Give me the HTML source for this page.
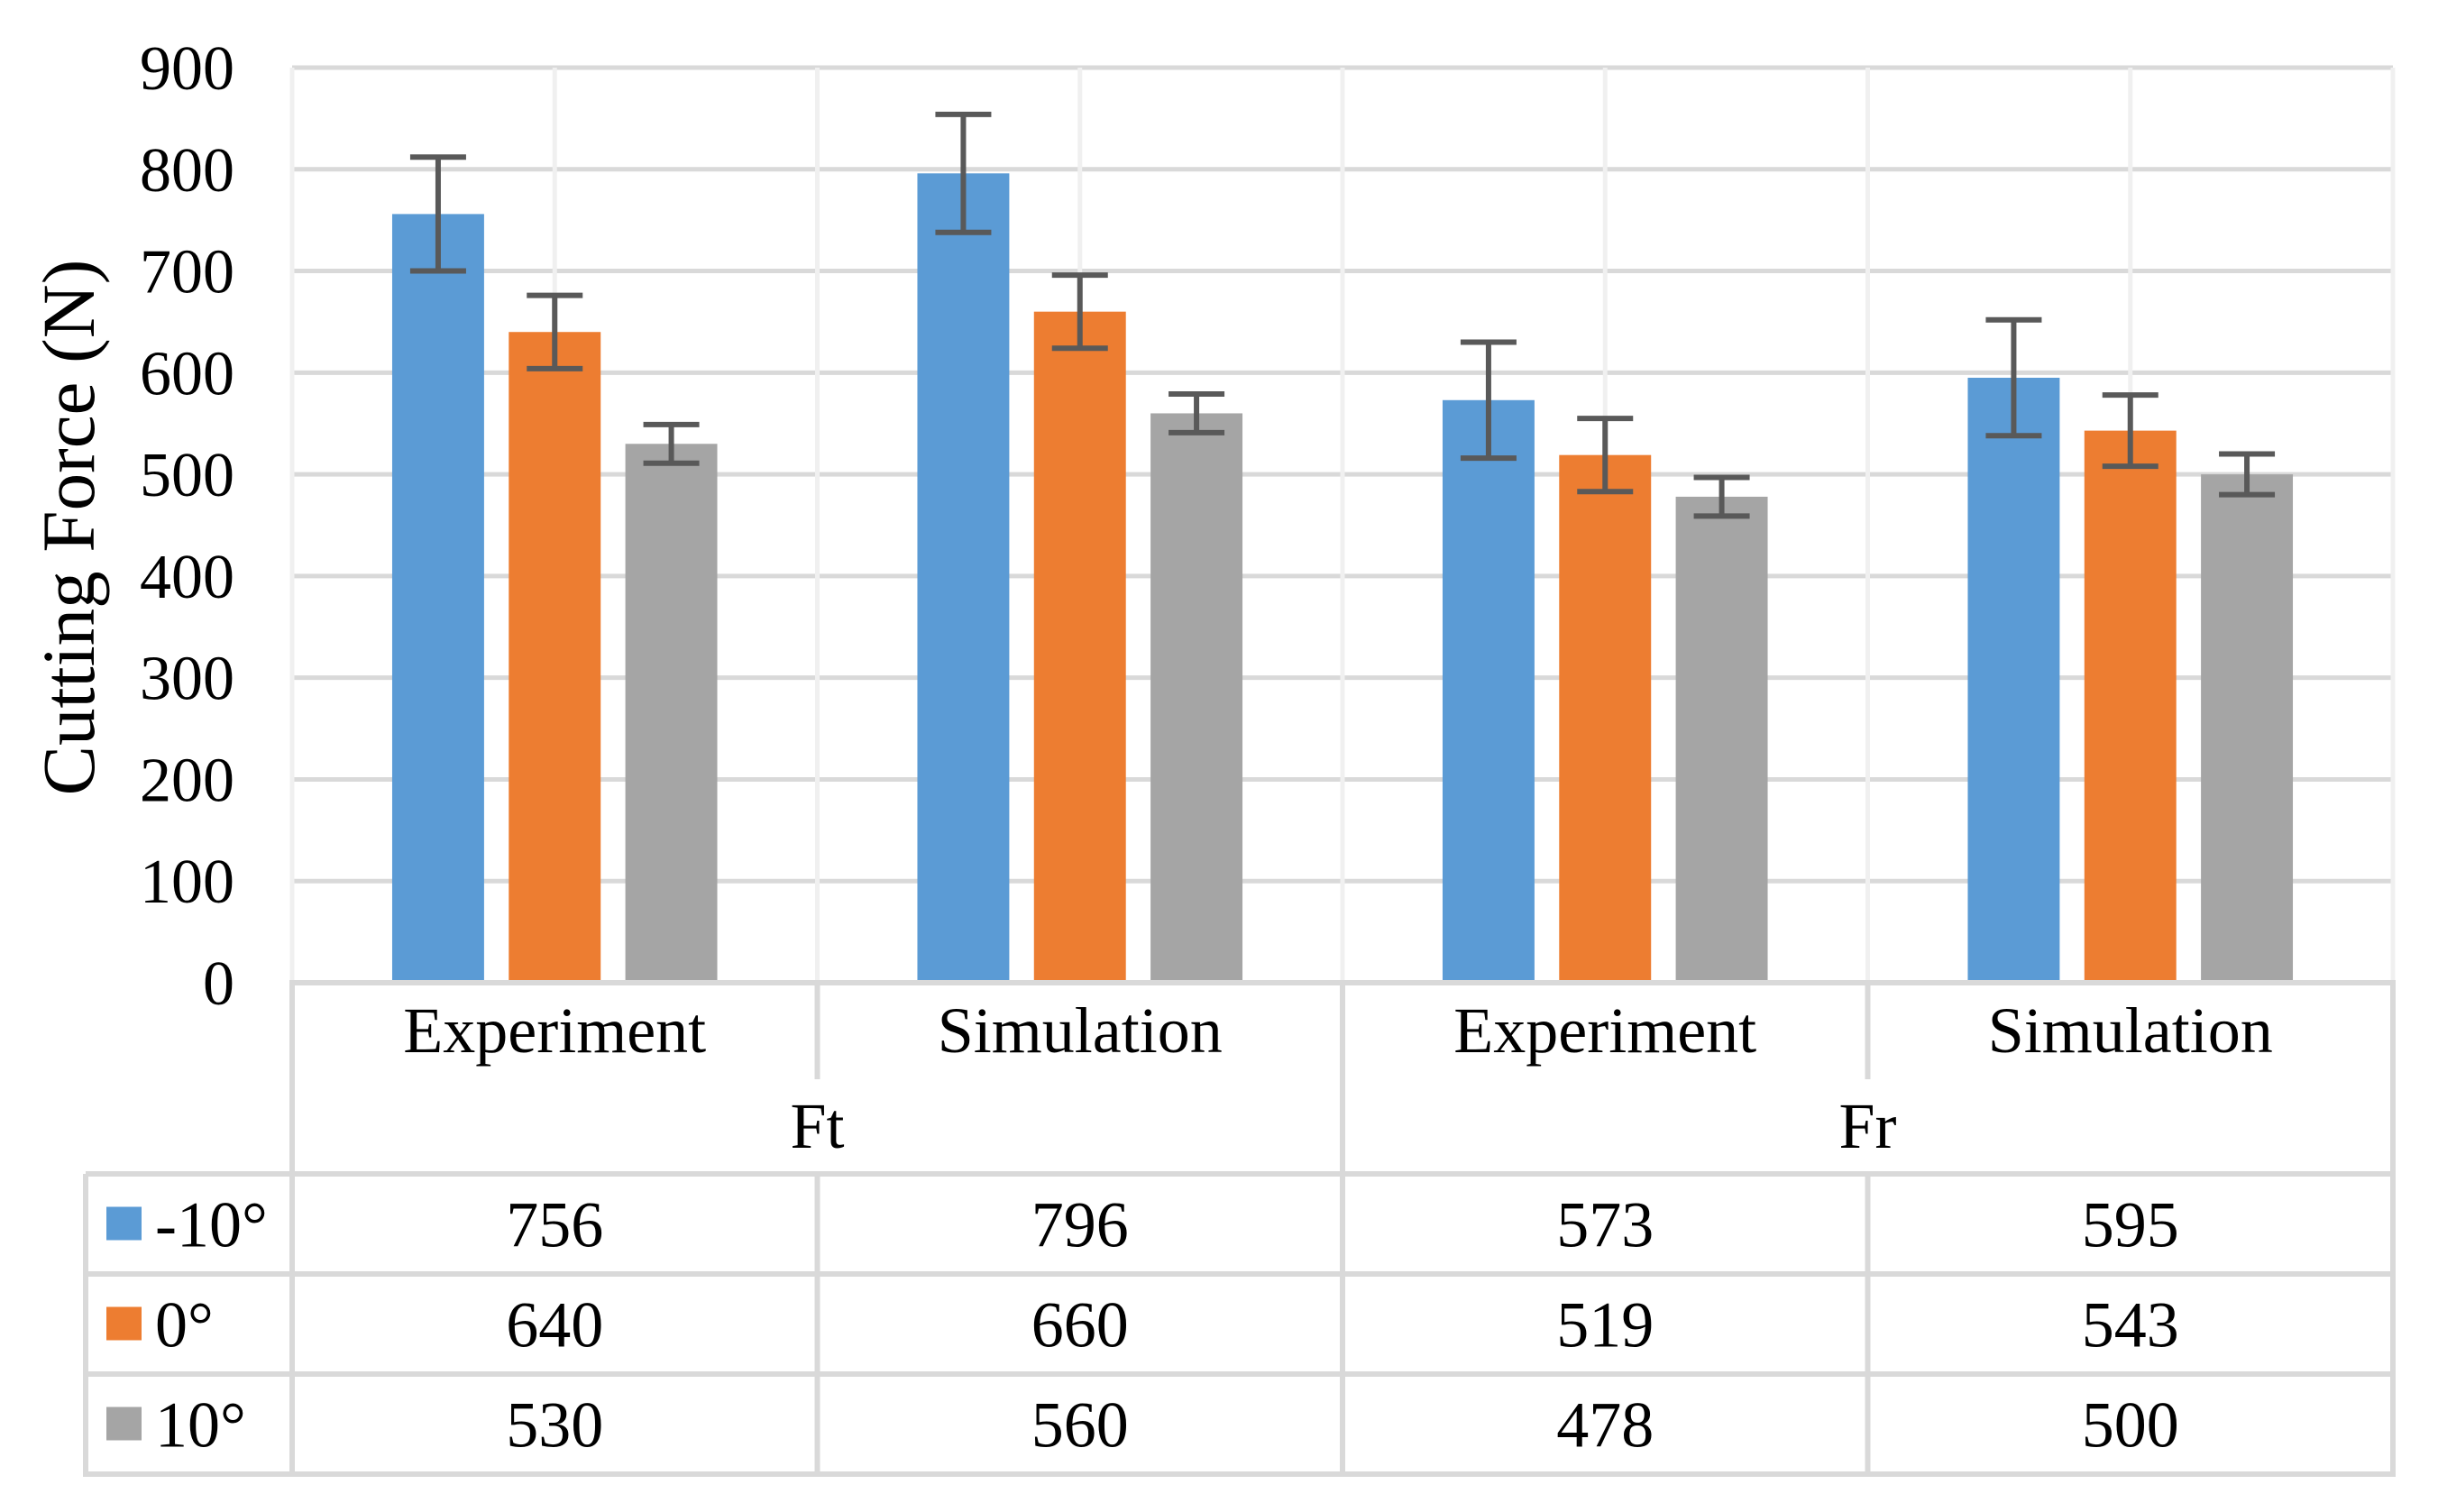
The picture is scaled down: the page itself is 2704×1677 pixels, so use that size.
<!DOCTYPE html>
<html><head><meta charset="utf-8"><style>
html,body{margin:0;padding:0;background:#fff;}
svg{display:block;font-family:"Liberation Serif",serif;}
</style></head><body>
<svg id="chart" width="2704" height="1677" viewBox="0 0 2704 1677" xmlns="http://www.w3.org/2000/svg">
<g id="grid"></g>
<g id="bars"></g>
<g id="errs"></g>
<g id="table"></g>
<g id="texts"></g>
<text transform="translate(104,585) rotate(-90)" text-anchor="middle" font-size="83" fill="#000">Cutting Force (N)</text>
</svg>
<script>
const categories = ["Experiment","Simulation","Experiment","Simulation"];
const groups = ["Ft","Fr"];
const seriesNames = ["-10°","0°","10°"];
const seriesNeg10 = [756,796,573,595];
const series0 = [640,660,519,543];
const series10 = [530,560,478,500];
const errNeg10 = [56,58,57,57];
const err0 = [36,36,36,35];
const err10 = [19,19,19,20];
const yTicks = [0,100,200,300,400,500,600,700,800,900];

const NS="http://www.w3.org/2000/svg";
const colors=["#5b9bd5","#ed7d31","#a5a5a5"];
const series=[seriesNeg10,series0,series10];
const errs=[errNeg10,err0,err10];
const X0=324,X1=2654,Y0=1090,Ytop=75,yMax=900;
const catW=(X1-X0)/categories.length;
const y=v=>Y0-(v/yMax)*(Y0-Ytop);
const catX=i=>X0+i*catW;
function mk(tag,attrs,parent,txt){const e=document.createElementNS(NS,tag);for(const k in attrs)e.setAttribute(k,attrs[k]);if(txt!==undefined)e.textContent=txt;document.getElementById(parent).appendChild(e);return e;}

yTicks.forEach(t=>{
  if(t>0){const l=mk('line',{x1:X0,x2:X1,y1:y(t),y2:y(t),stroke:'#d9d9d9','stroke-width':5},'grid');
  
  }
  const tx=mk('text',{x:260,y:y(t)+24,'text-anchor':'end','font-size':70,fill:'#000'},'texts',String(t));
  
  
});
for(let i=0;i<=categories.length;i++){
  const l=mk('line',{x1:catX(i),x2:catX(i),y1:Ytop,y2:Y0,stroke:'#f0f0f0','stroke-width':5},'grid');
  
  
  if(i<categories.length){
    const c=mk('line',{x1:catX(i)+catW/2,x2:catX(i)+catW/2,y1:Ytop,y2:Y0,stroke:'#f0f0f0','stroke-width':5},'grid');
    
    
  }
}
const bw=catW*0.175, gap=catW*0.047;
categories.forEach((c,i)=>{
  const start=catX(i)+(catW-(3*bw+2*gap))/2;
  series.forEach((s,k)=>{
    const bx=start+k*(bw+gap);
    const r=mk('rect',{x:bx,y:y(s[i]),width:bw,height:Y0-y(s[i]),fill:colors[k]},'bars');
    
    
    const cx=bx+bw/2, e=errs[k][i];
    const g=mk('path',{d:`M${cx-31},${y(s[i]+e)}H${cx+31}M${cx},${y(s[i]+e)}V${y(s[i]-e)}M${cx-31},${y(s[i]-e)}H${cx+31}`,stroke:'#595959','stroke-width':6,fill:'none'},'errs');
    
    
  });
});
const rowY=[1090,1302,1413,1524,1635];
const TL=95, LW=6, LC='#d9d9d9';
function tl(x1,y1,x2,y2){const l=mk('line',{x1:x1,y1:y1,x2:x2,y2:y2,stroke:LC,'stroke-width':LW},'table');}
tl(X0-3,1090,X1+3,1090);
for(let r=1;r<rowY.length;r++) tl(TL,rowY[r],X1+3,rowY[r]);
tl(X0,1090,X0,1638); tl(X1,1090,X1,1638); tl(TL,1302,TL,1638);
tl(catX(2),1090,catX(2),1638);
tl(catX(1),1090,catX(1),1197); tl(catX(3),1090,catX(3),1197);
tl(catX(1),1302,catX(1),1638); tl(catX(3),1302,catX(3),1638);
categories.forEach((c,i)=>{
  const t=mk('text',{x:catX(i)+catW/2,y:1167,'text-anchor':'middle','font-size':72,fill:'#000'},'texts',c);
  
  
});
groups.forEach((g,j)=>{
  const t=mk('text',{x:catX(2*j+1),y:1273,'text-anchor':'middle','font-size':72,fill:'#000'},'texts',g);
  
  
});
series.forEach((s,k)=>{
  const top=rowY[k+1], mid=(top+rowY[k+2])/2;
  const sw=mk('rect',{x:118,y:mid-19,width:39,height:37,fill:colors[k]},'table');
  
  
  const lt=mk('text',{x:172,y:mid+25,'font-size':72,fill:'#000'},'texts',seriesNames[k]);
  
  
  s.forEach((v,i)=>{
    const t=mk('text',{x:catX(i)+catW/2,y:mid+25,'text-anchor':'middle','font-size':72,fill:'#000'},'texts',String(v));
    
    
  });
});
</script>
</body></html>
